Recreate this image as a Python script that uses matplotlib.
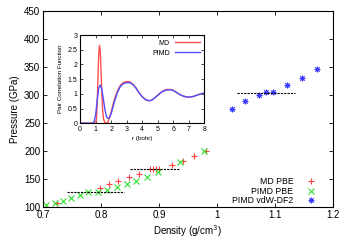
import matplotlib
matplotlib.use("Agg")
import matplotlib.pyplot as plt

# main panel data: density (g/cm^3) vs pressure (GPa)
md_pbe_rho = [0.724, 0.798, 0.814, 0.830, 0.848, 0.865, 0.884, 0.890, 0.895, 0.900,
              0.922, 0.942, 0.960, 0.982]
md_pbe_p = [107, 134, 141, 146, 154, 159, 168, 168, 168, 168, 175, 182, 191, 201]

pimd_pbe_rho = [0.705, 0.721, 0.734, 0.748, 0.763, 0.778, 0.794, 0.810, 0.827, 0.844,
                0.860, 0.879, 0.898, 0.937, 0.978]
pimd_pbe_p = [104, 107, 111, 116, 122, 127, 128, 130, 136, 141, 147, 154, 163, 181, 201]

vdw_rho = [1.026, 1.049, 1.072, 1.084, 1.096, 1.121, 1.146, 1.172]
vdw_p = [275, 289, 300, 306, 305, 317, 331, 347]

# plateau guides (x start, x end, pressure)
plateaus = [(0.741, 0.840, 128), (0.850, 0.935, 168), (1.035, 1.135, 304)]

# inset: pair correlation function
r_md = [0, 0.9, 1.0, 1.05, 1.1, 1.15, 1.2, 1.25, 1.3, 1.35, 1.4, 1.45, 1.5, 1.6, 1.7,
        1.8, 1.9, 2.0, 2.2, 2.4, 2.6, 2.8, 3.0, 3.2, 3.4, 3.6, 3.8, 4.0, 4.2, 4.4,
        4.6, 4.8, 5.0, 5.2, 5.4, 5.6, 5.8, 6.0, 6.2, 6.4, 6.6, 6.8, 7.0, 7.2, 7.4,
        7.6, 7.8, 8.0]
g_md = [0, 0, 0.02, 0.15, 0.7, 1.6, 2.4, 2.65, 2.4, 1.7, 0.95, 0.45, 0.15, 0.02, 0.0,
        0.05, 0.2, 0.4, 0.8, 1.1, 1.3, 1.39, 1.42, 1.41, 1.33, 1.2, 1.03, 0.9, 0.8, 0.76,
        0.78, 0.86, 0.96, 1.05, 1.12, 1.15, 1.15, 1.12, 1.05, 0.98, 0.93, 0.90, 0.89,
        0.9, 0.93, 0.97, 1.0, 1.03]

r_pimd = [0, 0.8, 0.9, 1.0, 1.1, 1.2, 1.3, 1.4, 1.5, 1.6, 1.7, 1.8, 1.9, 2.0, 2.2, 2.4,
          2.6, 2.8, 3.0, 3.2, 3.4, 3.6, 3.8, 4.0, 4.2, 4.4, 4.6, 4.8, 5.0, 5.2, 5.4,
          5.6, 5.8, 6.0, 6.2, 6.4, 6.6, 6.8, 7.0, 7.2, 7.4, 7.6, 7.8, 8.0]
g_pimd = [0, 0, 0.05, 0.3, 0.8, 1.2, 1.3, 1.15, 0.8, 0.45, 0.22, 0.16, 0.2, 0.33, 0.72,
          1.05, 1.26, 1.35, 1.38, 1.38, 1.31, 1.19, 1.03, 0.9, 0.81, 0.77, 0.78, 0.86,
          0.95, 1.04, 1.1, 1.13, 1.14, 1.11, 1.05, 0.98, 0.93, 0.90, 0.89, 0.9, 0.93,
          0.97, 1.0, 1.03]

plt.rcParams['font.family'] = ['Liberation Sans', 'DejaVu Sans']

fig = plt.figure(figsize=(3.5, 2.45), dpi=100)
ax = fig.add_axes([0.123, 0.154, 0.828, 0.802])

ax.plot(md_pbe_rho, md_pbe_p, linestyle='none', marker='+', color='#ff4040',
        markersize=4.5, markeredgewidth=0.8, label='MD PBE')
ax.plot(pimd_pbe_rho, pimd_pbe_p, linestyle='none', marker='x', color='#30e030',
        markersize=4, markeredgewidth=0.8, label='PIMD PBE')
ax.plot(vdw_rho, vdw_p, linestyle='none', marker=(8, 2, 0), color='#3a3aff',
        markersize=4, markeredgewidth=0.7, label='PIMD vdW-DF2')
for x0, x1, p in plateaus:
    ax.plot([x0, x1], [p, p], color='black', linestyle=(0, (2, 1)), linewidth=0.8)

ax.set_xlim(0.7, 1.2)
ax.set_ylim(100, 450)
ax.set_xticks([0.7, 0.8, 0.9, 1.0, 1.1, 1.2])
ax.set_xticklabels(['0.7', '0.8', '0.9', '1', '1.1', '1.2'])
ax.set_yticks(range(100, 451, 50))
ax.tick_params(direction='in', top=True, right=True, labelsize=7, length=3,
               width=0.6, pad=2)
ax.set_xlabel('Density (g/cm$^3$)', fontsize=7, labelpad=2)
ax.set_ylabel('Pressure (GPa)', fontsize=7, labelpad=3)
for s in ax.spines.values():
    s.set_linewidth(0.8)

leg = ax.legend(loc='lower right', bbox_to_anchor=(0.948, 0.01), frameon=False,
                markerfirst=False, fontsize=6.3, handlelength=1.5,
                handletextpad=1.3, labelspacing=0.05, borderaxespad=0,
                borderpad=0)

# inset
ins = fig.add_axes([0.229, 0.497, 0.355, 0.36])
ins.plot(r_md, g_md, color='#ff5050', linewidth=1.0, label='MD')
ins.plot(r_pimd, g_pimd, color='#5050ff', linewidth=1.0, label='PIMD')
ins.set_xlim(0, 8)
ins.set_ylim(0, 3)
ins.set_xticks(range(0, 9))
ins.set_yticks([0, 0.5, 1, 1.5, 2, 2.5, 3])
ins.set_yticklabels(['0', '0.5', '1', '1.5', '2', '2.5', '3'])
ins.tick_params(direction='in', top=True, right=True, labelsize=5, length=2,
                width=0.5, pad=2)
ins.set_xlabel('r (bohr)', fontsize=4.5, labelpad=2)
ins.set_ylabel('Pair Correlation Function', fontsize=4.5, labelpad=3)
for s in ins.spines.values():
    s.set_linewidth(0.8)
ins.legend(loc='upper right', frameon=False, markerfirst=False, fontsize=5,
           handlelength=3.5, handletextpad=0.8, labelspacing=0.4,
           borderaxespad=0.3)

fig.savefig('out.png', dpi=100)
